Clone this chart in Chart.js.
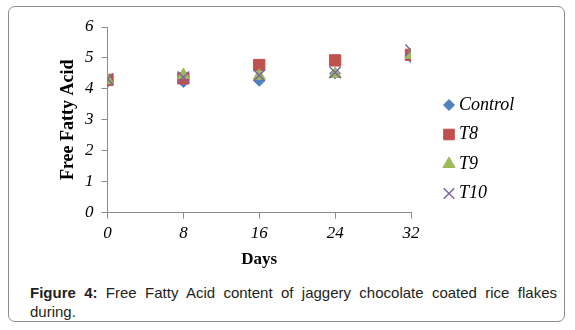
<!DOCTYPE html>
<html>
<head>
<meta charset="utf-8">
<script src="https://cdn.jsdelivr.net/npm/chart.js@4/dist/chart.umd.min.js"></script>
<style>
  html, body { margin: 0; padding: 0; background: #fff; }
  #wrap { position: relative; width: 575px; height: 330px; overflow: hidden; }
  #frame { position: absolute; left: 8px; top: 6px; width: 557px; height: 316px; box-sizing: border-box;
           border: 1px solid #8c8c8c; border-radius: 7px; }
  #c { position: absolute; left: 0; top: 0; }
  #cap { position: absolute; left: 30px; top: 283px; width: 527px; font-family: "Liberation Sans", Arial, sans-serif;
         font-size: 15px; line-height: 19px; color: #231f20; }
  #cap .l1 { text-align: justify; text-align-last: justify; white-space: normal; }
  #cap b { font-weight: bold; }
</style>
</head>
<body>
<div id="wrap">
  <div id="frame"></div>
  <canvas id="c" width="575" height="275"></canvas>
  <div id="cap"><div class="l1"><b>Figure 4:</b> Free Fatty Acid content of jaggery chocolate coated rice flakes</div><div>during.</div></div>
</div>
<script>
// ---- data ----
const days = [0, 8, 16, 24, 32];
const seriesNames = ["Control", "T8", "T9", "T10"];
const control = [4.23, 4.22, 4.26, 4.50, 5.02];
const t8      = [4.29, 4.34, 4.77, 4.92, 5.10];
const t9      = [4.28, 4.45, 4.42, 4.48, 5.10];
const t10     = [4.32, 4.38, 4.44, 4.53, 5.25];
const yTicks  = [0, 1, 2, 3, 4, 5, 6];
const xTicks  = [0, 8, 16, 24, 32];

const toXY = arr => arr.map((v, i) => ({ x: days[i], y: v }));

const styles = [
  { color: '#4F81BD', pointStyle: 'rectRot', radius: 5.5, bw: 1, order: 3 },
  { color: '#C0504D', pointStyle: 'rect', radius: 8, bw: 1, order: 2 },
  { color: '#9BBB59', pointStyle: 'triangle', radius: 7, bw: 1, order: 1 },
  { color: '#8064A2', pointStyle: 'crossRot', radius: 8, bw: 1.5, order: 0 }
];
const values = [control, t8, t9, t10];

const datasets = values.map((vals, i) => ({
  label: seriesNames[i],
  data: toXY(vals),
  showLine: false,
  pointStyle: styles[i].pointStyle,
  pointRadius: styles[i].radius,
  pointHoverRadius: styles[i].radius,
  pointBackgroundColor: styles[i].color,
  pointBorderColor: styles[i].color,
  pointBorderWidth: styles[i].bw,
  backgroundColor: styles[i].color,
  borderColor: styles[i].color,
  order: styles[i].order
}));

const legendPlugin = {
  id: 'sideLegend',
  afterDraw(chart) {
    const ctx = chart.ctx;
    const x0 = 449, y0 = 105, step = 29.5;
    ctx.save();
    chart.data.datasets.forEach((ds, i) => {
      const y = y0 + i * step;
      ctx.fillStyle = ds.pointBackgroundColor;
      ctx.strokeStyle = ds.pointBorderColor;
      ctx.lineWidth = ds.pointBorderWidth;
      Chart.helpers.drawPoint(ctx, {
        pointStyle: ds.pointStyle,
        radius: ds.pointStyle === 'rect' ? 7.5 : (ds.pointStyle === 'crossRot' ? 7.5 : ds.pointRadius),
        rotation: 0,
        borderWidth: ds.pointBorderWidth
      }, x0, y);
      ctx.fillStyle = '#000';
      ctx.font = 'italic 18px "Liberation Serif", "Times New Roman", serif';
      ctx.textBaseline = 'middle';
      ctx.textAlign = 'left';
      ctx.fillText(ds.label, x0 + 10, y);
    });
    ctx.restore();
  }
};

const axisGray = '#8c8c8c';
const tickFont = { family: '"Liberation Serif", "Times New Roman", serif', size: 17, style: 'italic' };

new Chart(document.getElementById('c'), {
  type: 'scatter',
  data: { datasets },
  options: {
    responsive: false,
    devicePixelRatio: 1,
    animation: false,
    layout: { padding: { left: 59, right: 164, top: 27, bottom: 5.1 } },
    plugins: { legend: { display: false }, tooltip: { enabled: false } },
    scales: {
      x: {
        type: 'linear',
        min: xTicks[0], max: xTicks[xTicks.length - 1],
        afterBuildTicks: s => { s.ticks = xTicks.map(v => ({ value: v })); },
        ticks: { color: '#000', font: tickFont, padding: 5, maxRotation: 0, autoSkip: false },
        grid: { drawOnChartArea: false, drawTicks: true, tickLength: 6, color: axisGray },
        border: { display: true, color: axisGray, width: 1 },
        title: { display: true, text: 'Days', color: '#000',
                 font: { family: '"Liberation Serif", "Times New Roman", serif', size: 17, weight: 'bold' },
                 padding: { top: 0.5, bottom: 0 } }
      },
      y: {
        type: 'linear',
        min: yTicks[0], max: yTicks[yTicks.length - 1],
        afterBuildTicks: s => { s.ticks = yTicks.map(v => ({ value: v })); },
        ticks: { color: '#000', font: tickFont, padding: 8 },
        grid: { drawOnChartArea: false, drawTicks: true, tickLength: 6, color: axisGray },
        border: { display: true, color: axisGray, width: 1 },
        title: { display: true, text: 'Free Fatty Acid', color: '#000',
                 font: { family: '"Liberation Serif", "Times New Roman", serif', size: 18, weight: 'bold', lineHeight: 1 },
                 padding: { top: 0, bottom: 0 } }
      }
    }
  },
  plugins: [legendPlugin]
});
</script>
</body>
</html>
